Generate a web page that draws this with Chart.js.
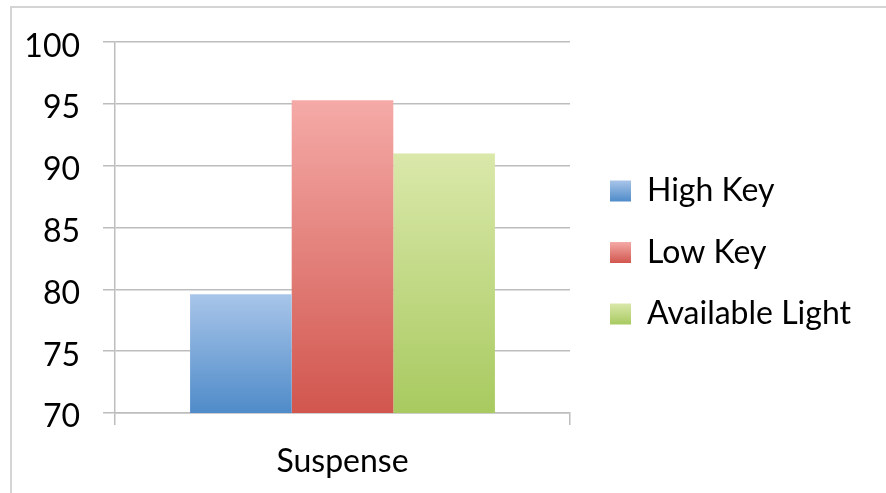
<!DOCTYPE html>
<html>
<head>
<meta charset="utf-8">
<script src="https://cdn.jsdelivr.net/npm/chart.js@4.4.1/dist/chart.umd.min.js"></script>
<style>
  html, body { margin: 0; padding: 0; background: #ffffff; }
  body { width: 886px; height: 493px; position: relative; overflow: hidden; }
  .frame {
    position: absolute; left: 10px; top: 6px; width: 900px; height: 520px;
    border-left: 2px solid #d4d4d4; border-top: 2px solid #d4d4d4;
  }
  canvas { position: absolute; left: 0; top: 0; }
</style>
</head>
<body>
<div class="frame"></div>
<canvas id="chart" width="886" height="493"></canvas>
<script>
// Categories and series
const categories = ['Suspense'];
const seriesNames = ['High Key', 'Low Key', 'Available Light'];
const highKey = [79.6];
const lowKey = [95.3];
const availableLight = [91.0];

// Value axis
const yMin = 70;
const yMax = 100;
const yStep = 5;

// Light (top) and dark (bottom) gradient stops per series
const seriesLight = ['#a8c5e9', '#f5aaa7', '#dae8aa'];
const seriesDark = ['#4f8bc9', '#d1564e', '#a8ca60'];

const FONT = 'Lato, "Open Sans", sans-serif';
const LEGEND_SIZE = 32;
const LEGEND_BOX = 21;
const LEGEND_PAD = 29.5;
const SWATCH_X = 610;   // left edge of the legend swatches

// Size the right padding so the legend column starts at SWATCH_X
const canvas = document.getElementById('chart');
const mctx = canvas.getContext('2d');
mctx.font = LEGEND_SIZE + 'px ' + FONT;
const widestLabel = Math.max(...seriesNames.map(n => mctx.measureText(n).width));
const legendItemWidth = LEGEND_BOX + LEGEND_SIZE / 2 + widestLabel;
const rightPad = canvas.width - SWATCH_X - legendItemWidth - 10;
const gapWidth = (SWATCH_X - LEGEND_PAD) - 570;

function barFill(i) {
  return (ctx) => {
    const chart = ctx.chart;
    const area = chart.chartArea;
    if (!area || ctx.type !== 'data') return seriesDark[i];
    const top = chart.scales.y.getPixelForValue(ctx.raw);
    const g = chart.ctx.createLinearGradient(0, top, 0, area.bottom);
    g.addColorStop(0, seriesLight[i]);
    g.addColorStop(1, seriesDark[i]);
    return g;
  };
}

// Legend swatches get the same vertical gradient as the bars
const legendGradient = {
  id: 'legendGradient',
  beforeDraw(chart) {
    const legend = chart.legend;
    if (!legend || !legend.legendItems || !legend.legendHitBoxes) return;
    const labels = legend.options.labels;
    const fontSize = labels.font.size;
    const boxH = labels.boxHeight;
    legend.legendItems.forEach((item, i) => {
      const hb = legend.legendHitBoxes[i];
      if (!hb) return;
      const top = hb.top + Math.max((fontSize - boxH) / 2, 0);
      const g = chart.ctx.createLinearGradient(0, top, 0, top + boxH);
      g.addColorStop(0, seriesLight[item.datasetIndex]);
      g.addColorStop(1, seriesDark[item.datasetIndex]);
      item.fillStyle = g;
      item.lineWidth = 0;
    });
  }
};

const seriesValues = [highKey, lowKey, availableLight];

new Chart(canvas, {
  type: 'bar',
  data: {
    labels: categories,
    datasets: seriesNames.map((name, i) => ({
      label: name,
      data: seriesValues[i],
      backgroundColor: barFill(i),
      borderWidth: 0,
      categoryPercentage: 0.67,
      barPercentage: 1.0
    }))
  },
  options: {
    responsive: false,
    animation: false,
    devicePixelRatio: 1,
    layout: { padding: { top: 24, bottom: 12, left: 0, right: rightPad } },
    plugins: {
      tooltip: { enabled: false },
      legend: {
        position: 'right',
        align: 'center',
        maxWidth: 500,
        labels: {
          boxWidth: LEGEND_BOX,
          boxHeight: LEGEND_BOX,
          padding: LEGEND_PAD,
          color: '#000000',
          font: { family: FONT, size: LEGEND_SIZE }
        }
      }
    },
    scales: {
      x: {
        grid: {
          offset: true,
          drawOnChartArea: false,
          drawTicks: true,
          tickLength: 12,
          color: '#bdbdbd',
          lineWidth: 1.5
        },
        border: { display: true, color: '#bdbdbd', width: 1.5 },
        ticks: { color: '#000000', padding: 17, font: { family: FONT, size: 32 } },
        afterFit: (s) => { s.height = 68; }
      },
      y: {
        min: yMin,
        max: yMax,
        grid: { color: '#bdbdbd', lineWidth: 1.5, tickLength: 12 },
        border: { display: true, color: '#bdbdbd', width: 1.5 },
        ticks: {
          stepSize: yStep,
          color: '#000000',
          padding: 23,
          labelOffset: 4,
          font: { family: FONT, size: 32 }
        },
        afterFit: (s) => { s.width = 115; }
      },
      // empty spacer axes that set the plot margins
      gapTop: {
        type: 'linear',
        position: 'top',
        display: true,
        grid: { display: false, drawTicks: false },
        border: { display: false },
        ticks: { display: false },
        afterFit: (s) => { s.height = 15.4; }
      },
      gapRight: {
        type: 'linear',
        position: 'right',
        display: true,
        grid: { display: false, drawTicks: false },
        border: { display: false },
        ticks: { display: false },
        afterFit: (s) => { s.width = gapWidth; }
      }
    }
  },
  plugins: [legendGradient]
});
</script>
</body>
</html>
